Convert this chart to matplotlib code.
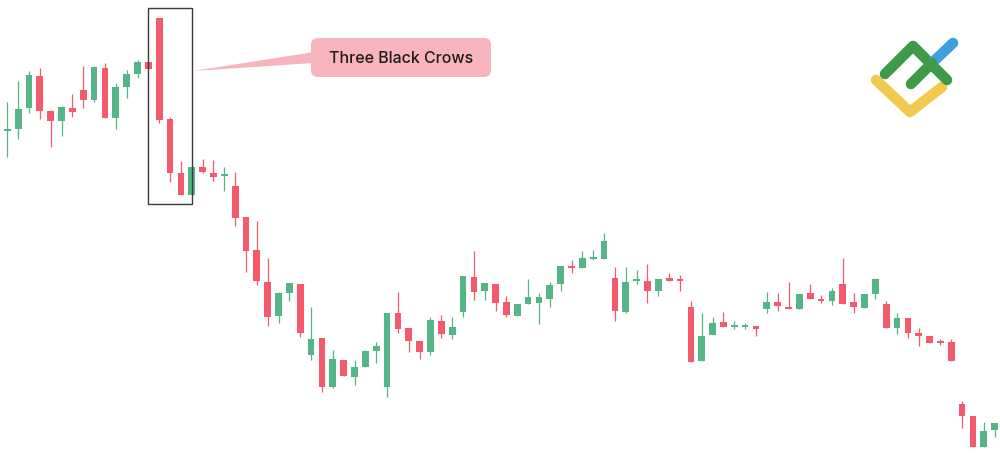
import numpy as np
import matplotlib
matplotlib.use('Agg')
import matplotlib.pyplot as plt
from matplotlib.patches import Rectangle, FancyBboxPatch, Polygon

# candle data (price units)
opens = [340, 342, 363, 395, 360, 350, 363, 381, 371, 403, 353, 384, 397, 409, 453, 352,
         298, 276, 304, 298, 295, 285, 254, 221, 189, 155, 178, 187, 116, 133, 84, 111,
         94, 104, 120, 84, 158, 143, 130, 119, 150, 136, 159, 194, 180, 187, 169, 155,
         167, 168, 172, 187, 205, 203, 212, 212, 193, 159, 190, 190, 180, 193, 191.5, 164,
         110, 136, 149, 144, 144, 145, 162, 169, 164, 162, 178, 172, 170, 187, 169, 163,
         177, 167, 143, 153, 138, 135, 129, 129, 67, 55, 24, 41]
highs = [369, 390, 400, 403, 361, 365, 377, 405, 405, 408, 388, 401, 411, 409, 453, 354,
         310, 304, 312, 311, 304, 299, 254, 250, 213, 179, 188, 187, 164, 133, 121, 111,
         111, 121, 129, 158, 179, 143, 130, 154, 156, 154, 195, 220, 188, 187, 175, 167,
         192, 178, 189, 205, 211, 220, 221, 238, 204, 204, 201, 207, 192, 198, 196, 170,
         158, 154, 159, 150, 148, 145, 179, 178, 189, 177, 187, 176, 183, 213, 178, 177,
         192, 170, 158, 153, 143, 135, 132, 132, 70, 55, 49, 48]
lows = [314, 332, 358, 352, 324, 335, 354, 363, 369, 353, 342, 373, 393, 402, 348, 289,
        276, 276, 298, 290, 280, 245, 199, 186, 145, 148, 170, 134, 111, 79, 83, 95,
        86, 104, 108, 74, 138, 119, 112, 116, 133, 132, 154, 171, 171, 160, 154, 155,
        167, 147, 164, 180, 198, 203, 211, 212, 150, 158, 187, 168, 175, 190, 180, 109,
        110, 136, 144, 142, 142, 135, 158, 160, 162, 162, 172, 168, 166, 167, 158, 163,
        172, 143, 137, 133, 125, 128, 126, 110, 43, 24, 24, 34]
closes = [342, 362, 396, 360, 350, 364, 359, 371, 404, 353, 384, 397, 409, 402, 351, 298,
          276, 304, 299, 294, 297, 253, 220, 190, 154, 178, 188, 138, 132, 84, 112, 95,
          104, 120, 125, 158, 142, 130, 119, 151, 137, 144, 195, 179, 188, 168, 156, 167,
          174, 174, 186, 205, 203, 213, 213, 230, 160, 189, 191, 180, 192, 190, 190.5, 109,
          135, 148, 144, 145, 145, 142, 169, 165, 162, 177, 172, 170, 180, 167, 164, 177,
          192, 143, 153, 138, 135, 128, 128, 110, 55, 24, 40, 48]

label = 'Three Black Crows'
pattern = (13, 17)  # candles the box edges sit on

up_col = '#55B586'
dn_col = '#F45A6B'

fig = plt.figure(figsize=(10, 4.71), dpi=100)
ax = fig.add_axes([0, 0, 1, 1])
ax.set_xlim(-0.673, 91.49)
ax.set_ylim(0, 471)
ax.axis('off')

w = 0.62
for i in range(len(opens)):
    o, h, l, c = opens[i], highs[i], lows[i], closes[i]
    col = up_col if c >= o else dn_col
    ax.vlines(i, l, h, color=col, lw=0.9, zorder=2)
    bot = min(o, c)
    hgt = max(abs(c - o), 1.8)
    ax.add_patch(Rectangle((i - w / 2, bot), w, hgt, facecolor=col, edgecolor='none', zorder=3))

# box around the pattern
ax.add_patch(Rectangle((pattern[0], 267), pattern[1] - pattern[0], 463 - 267,
                       facecolor='none', edgecolor='#3a3a3a', lw=1.0, zorder=4))

# overlay in pixel coordinates for callout and logo
ov = fig.add_axes([0, 0, 1, 1])
ov.set_xlim(0, 1000)
ov.set_ylim(471, 0)
ov.axis('off')
ov.patch.set_alpha(0)

pink = '#F8B4BD'
ov.add_patch(Polygon([(193, 71), (314, 52), (314, 63)], closed=True, facecolor=pink,
                     edgecolor='none'))
ov.add_patch(FancyBboxPatch((311, 38), 180, 39, boxstyle='round,pad=0,rounding_size=7',
                            facecolor=pink, edgecolor='none'))
ov.text(401, 58.5, label, ha='center', va='center', fontsize=11.5, family='Inter',
        fontweight='medium', color='#1b1b1b')

# logo
lw = 7.6
ov.plot([876, 910, 942], [80, 112, 87], color='#F2C94C', lw=lw, solid_capstyle='round',
        solid_joinstyle='round')
ov.plot([885, 913, 947], [74, 46, 80], color='#3C9A48', lw=lw, solid_capstyle='round',
        solid_joinstyle='round')
ov.plot([932, 953], [63, 43], color='#3E9FDC', lw=lw, solid_capstyle='round')
ov.plot([911, 932], [84, 63], color='#3C9A48', lw=lw, solid_capstyle='round')

fig.savefig('out.png', dpi=100)
